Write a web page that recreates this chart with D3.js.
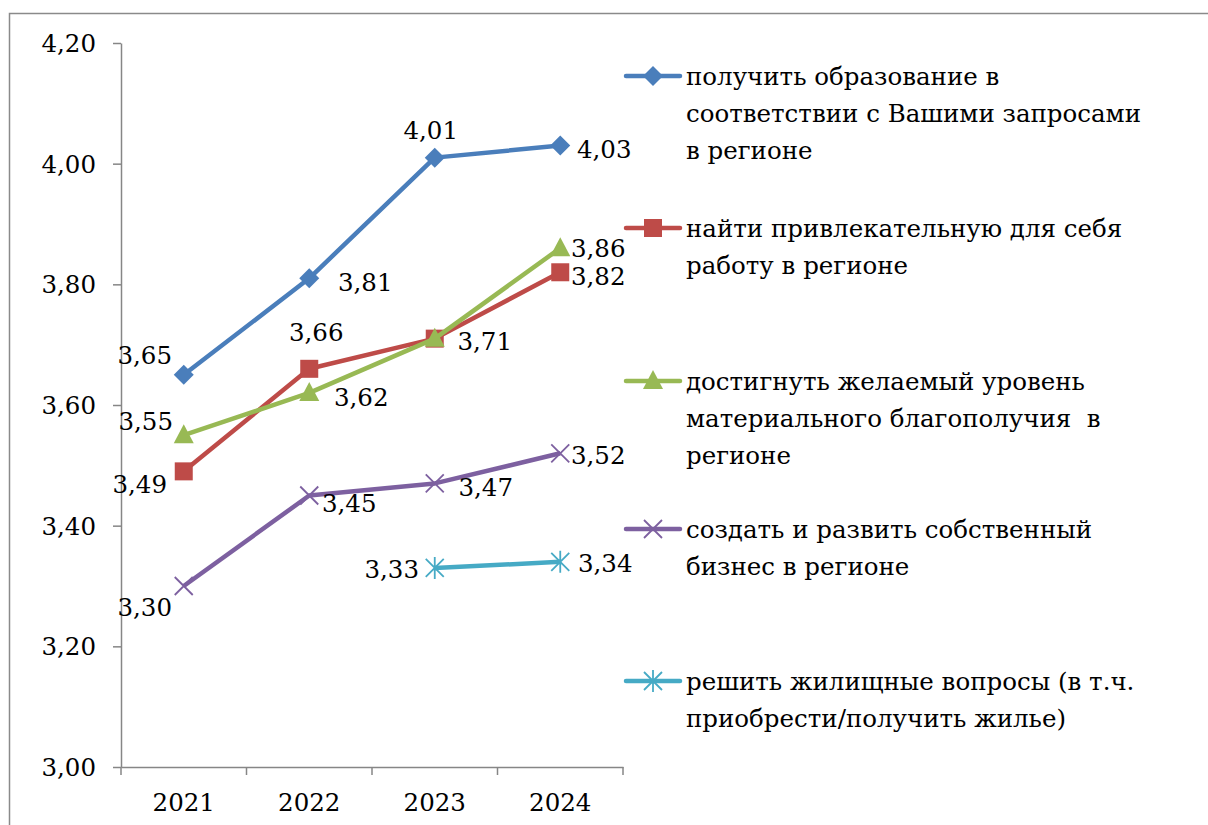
<!DOCTYPE html>
<html>
<head>
<meta charset="utf-8">
<script src="https://cdn.jsdelivr.net/npm/d3@7"></script>
<style>
  body { margin: 0; background: #fff; }
</style>
</head>
<body>
<div id="chart"></div>
<script>
// data
var years = ["2021", "2022", "2023", "2024"];
var yTicks = [3.0, 3.2, 3.4, 3.6, 3.8, 4.0, 4.2];
var seriesNames = [
  ["получить образование в", "соответствии с Вашими запросами", "в регионе"],
  ["найти привлекательную для себя", "работу в регионе"],
  ["достигнуть желаемый уровень", "материального благополучия  в", "регионе"],
  ["создать и развить собственный", "бизнес в регионе"],
  ["решить жилищные вопросы (в т.ч.", "приобрести/получить жилье)"]
];
var education = [3.65, 3.81, 4.01, 4.03];
var job = [3.49, 3.66, 3.71, 3.82];
var wellbeing = [3.55, 3.62, 3.71, 3.86];
var business = [3.30, 3.45, 3.47, 3.52];
var housing = [null, null, 3.33, 3.34];

var colors = ["#4a7ebb", "#be4b48", "#98b954", "#7d60a0", "#46aac5"];
var markers = ["diamond", "square", "triangle", "x", "star"];
var FONT = "DejaVu Serif";
var FS = 24.5;

// label offsets from point (dx, dy), null = hidden
var labelOff = [
  [[-39, -19], [56, 4], [-4, -27], [44, 4]],
  [[-44, 13], [7, -36], [50, 3], [38, 4]],
  [[-38, -14], [52, 4], null, [38, 0]],
  [[-39, 21], [40, 8], [51, 4], [38, 2]],
  [null, null, [-43, 2], [45, 2]]
];

var allSeries = [education, job, wellbeing, business, housing];

var width = 1208, height = 825;
var svg = d3.select("#chart").append("svg")
  .attr("width", width).attr("height", height);

// outer border
svg.append("rect")
  .attr("x", 9.5).attr("y", 13.5)
  .attr("width", 1220).attr("height", 840)
  .attr("fill", "none").attr("stroke", "#8a8a8a").attr("stroke-width", 1.5);

var xScale = d3.scaleBand().domain(years).range([121, 623]);
var yScale = d3.scaleLinear().domain([3.0, 4.2]).range([767, 43]);

var axisColor = "#868686";

// y axis
var yAxis = svg.append("g")
  .attr("transform", "translate(121,0)")
  .call(d3.axisLeft(yScale).tickValues(yTicks).tickSize(8).tickSizeOuter(0)
    .tickFormat(function (d) { return d3.format(".2f")(d).replace(".", ","); }));
yAxis.attr("font-family", FONT).attr("font-size", FS);
yAxis.select(".domain").attr("stroke", axisColor).attr("stroke-width", 1.5);
yAxis.selectAll(".tick line").attr("stroke", axisColor).attr("stroke-width", 1.5);
yAxis.selectAll(".tick text")
  .attr("x", -25).attr("dy", "0.35em")
  .attr("fill", "#000");

// x axis
var xAxis = svg.append("g")
  .attr("transform", "translate(0,767)")
  .call(d3.axisBottom(xScale).tickSize(0).tickSizeOuter(0));
xAxis.attr("font-family", FONT).attr("font-size", FS);
xAxis.select(".domain").attr("stroke", axisColor).attr("stroke-width", 1.5);
xAxis.selectAll(".tick text").attr("y", 44).attr("dy", 0)
  .attr("fill", "#000");
// tick marks at band edges
var edges = years.map(function (d) { return xScale(d); }).concat([xScale.range()[1]]);
xAxis.selectAll(".edge").data(edges).enter().append("line")
  .attr("x1", function (d) { return d; }).attr("x2", function (d) { return d; })
  .attr("y1", 0).attr("y2", 8)
  .attr("stroke", axisColor).attr("stroke-width", 1.5);

function cx(i) { return xScale(years[i]) + xScale.bandwidth() / 2; }

function drawMarker(g, type, x, y, color) {
  if (type === "diamond") {
    g.append("path").attr("d", "M" + x + "," + (y - 10) + "L" + (x + 10) + "," + y + "L" + x + "," + (y + 10) + "L" + (x - 10) + "," + y + "Z")
      .attr("fill", color);
  } else if (type === "square") {
    g.append("rect").attr("x", x - 9).attr("y", y - 9).attr("width", 18).attr("height", 18)
      .attr("fill", color);
  } else if (type === "triangle") {
    g.append("path").attr("d", "M" + x + "," + (y - 11) + "L" + (x + 10) + "," + (y + 8) + "L" + (x - 10) + "," + (y + 8) + "Z")
      .attr("fill", color);
  } else if (type === "x") {
    g.append("path").attr("d", "M" + (x - 9) + "," + (y - 9) + "L" + (x + 9) + "," + (y + 9) + "M" + (x - 9) + "," + (y + 9) + "L" + (x + 9) + "," + (y - 9))
      .attr("stroke", color).attr("stroke-width", 1.8).attr("fill", "none");
  } else if (type === "star") {
    g.append("path").attr("d", "M" + (x - 9) + "," + (y - 9) + "L" + (x + 9) + "," + (y + 9) + "M" + (x - 9) + "," + (y + 9) + "L" + (x + 9) + "," + (y - 9) + "M" + x + "," + (y - 11) + "L" + x + "," + (y + 11))
      .attr("stroke", color).attr("stroke-width", 1.8).attr("fill", "none");
  }
}

var line = d3.line()
  .defined(function (d) { return d != null; })
  .x(function (d, i) { return cx(i); })
  .y(function (d) { return yScale(d); });

allSeries.forEach(function (vals, s) {
  var g = svg.append("g");
  g.append("path").datum(vals)
    .attr("d", line)
    .attr("fill", "none").attr("stroke", colors[s]).attr("stroke-width", 4.5)
    .attr("stroke-linejoin", "round");
  vals.forEach(function (v, i) {
    if (v == null) return;
    drawMarker(g, markers[s], cx(i), yScale(v), colors[s]);
  });
});

// data labels
allSeries.forEach(function (vals, s) {
  vals.forEach(function (v, i) {
    if (v == null || !labelOff[s][i]) return;
    svg.append("text")
      .attr("x", cx(i) + labelOff[s][i][0])
      .attr("y", yScale(v) + labelOff[s][i][1])
      .attr("dy", "0.35em")
      .attr("text-anchor", "middle")
      .attr("font-family", FONT)
      .attr("font-size", FS)
      .text(d3.format(".2f")(v).replace(".", ","));
  });
});

// legend
var legendTop = [76, 228, 381, 529, 681];
seriesNames.forEach(function (lines, s) {
  var g = svg.append("g");
  var y = legendTop[s];
  g.append("line").attr("x1", 626).attr("x2", 680).attr("y1", y).attr("y2", y)
    .attr("stroke", colors[s]).attr("stroke-width", 4.5).attr("stroke-linecap", "round");
  drawMarker(g, markers[s], 653, y, colors[s]);
  lines.forEach(function (t, k) {
    g.append("text")
      .attr("x", 686).attr("y", y + k * 37)
      .attr("dy", "0.35em")
      .attr("font-family", FONT)
      .attr("font-size", FS)
      .style("white-space", "pre")
      .text(t);
  });
});
</script>
</body>
</html>
